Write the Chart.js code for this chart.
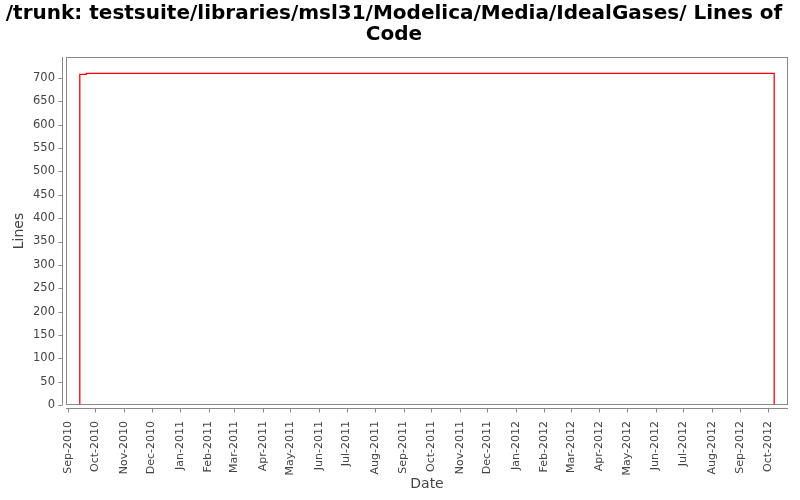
<!DOCTYPE html>
<html><head><meta charset="utf-8">
<script src="https://cdn.jsdelivr.net/npm/chart.js@4/dist/chart.umd.min.js"></script>
<style>html,body{margin:0;padding:0;background:#fff}#wrap{width:800px;height:500px}</style>
</head><body><div id="wrap"><canvas id="c"></canvas></div>
<script>
const titleLines = ['/trunk: testsuite/libraries/msl31/Modelica/Media/IdealGases/ Lines of', 'Code'];
const monthLabels = ['Sep-2010','Oct-2010','Nov-2010','Dec-2010','Jan-2011','Feb-2011','Mar-2011','Apr-2011','May-2011','Jun-2011','Jul-2011','Aug-2011','Sep-2011','Oct-2011','Nov-2011','Dec-2011','Jan-2012','Feb-2012','Mar-2012','Apr-2012','May-2012','Jun-2012','Jul-2012','Aug-2012','Sep-2012','Oct-2012'];
const monthStarts = ['2010-09-01','2010-10-01','2010-11-01','2010-12-01','2011-01-01','2011-02-01','2011-03-01','2011-04-01','2011-05-01','2011-06-01','2011-07-01','2011-08-01','2011-09-01','2011-10-01','2011-11-01','2011-12-01','2012-01-01','2012-02-01','2012-03-01','2012-04-01','2012-05-01','2012-06-01','2012-07-01','2012-08-01','2012-09-01','2012-10-01'];
const dates = ['2010-09-14','2010-09-14','2010-09-21','2012-10-08'];
const lines = [0, 708, 710, 0];
const yTicks = [0,50,100,150,200,250,300,350,400,450,500,550,600,650,700];
const xMinDate = '2010-08-30';
const xMaxDate = '2012-10-23';
const yMax = 745;

function day(s){ const p = s.split('-').map(Number); return Date.UTC(p[0], p[1]-1, p[2]) / 864e5; }
const points = dates.map((d,i) => ({x: day(d), y: lines[i]}));
const monthDays = monthStarts.map(day);
const labelByDay = {};
monthDays.forEach((d,i) => labelByDay[d] = monthLabels[i]);

const GRAY = '#888888';
const framePlugin = {
  id: 'frame',
  afterDraw(chart) {
    const {ctx, chartArea: a, scales: {x, y}} = chart;
    ctx.save();
    ctx.strokeStyle = GRAY;
    ctx.lineWidth = 1;
    ctx.strokeRect(a.left + 0.5, a.top + 0.5, a.right - a.left - 1, a.bottom - a.top - 1);
    ctx.beginPath();
    const ax = a.left - 4 + 0.5;
    ctx.moveTo(ax, a.top); ctx.lineTo(ax, a.bottom);
    y.ticks.forEach(t => { const py = Math.round(y.getPixelForValue(t.value)) + 0.5; ctx.moveTo(ax - 4, py); ctx.lineTo(ax, py); });
    const ay = a.bottom + 4 - 0.5;
    ctx.moveTo(a.left, ay); ctx.lineTo(a.right, ay);
    x.ticks.forEach(t => { const px = Math.round(x.getPixelForValue(t.value)) + 0.5; ctx.moveTo(px, ay); ctx.lineTo(px, ay + 4); });
    ctx.stroke();
    ctx.restore();
  }
};

new Chart(document.getElementById('c'), {
  type: 'line',
  data: { datasets: [{ data: points, borderColor: '#ff0000', borderWidth: 1.3, pointRadius: 0, stepped: 'before', fill: false }] },
  options: {
    responsive: true, maintainAspectRatio: false, animation: false,
    layout: { padding: { left: 0, right: 12, top: 0, bottom: 0 } },
    plugins: {
      legend: { display: false }, tooltip: { enabled: false },
      title: { display: true, text: titleLines, color: '#000', font: { family: 'DejaVu Sans', size: 20, weight: 'bold', lineHeight: 1.075 }, padding: { top: 3, bottom: 11 } }
    },
    scales: {
      x: {
        type: 'linear', min: day(xMinDate), max: day(xMaxDate),
        grid: { display: false, drawTicks: false }, border: { display: false },
        afterBuildTicks(s) { s.ticks = monthDays.map(v => ({ value: v })); },
        afterFit(s) { s.height = 95; },
        ticks: { autoSkip: false, minRotation: 90, maxRotation: 90, padding: 16, color: '#444', font: { family: 'DejaVu Sans', size: 11 }, callback: v => labelByDay[v] || '' },
        title: { display: true, text: 'Date', color: '#444', font: { family: 'DejaVu Sans', size: 14 }, padding: { top: 0, bottom: 7 } }
      },
      y: {
        type: 'linear', min: 0, max: yMax,
        grid: { display: false, drawTicks: false }, border: { display: false },
        afterBuildTicks(s) { s.ticks = yTicks.map(v => ({ value: v })); },
        afterFit(s) { s.width = 66; },
        ticks: { autoSkip: false, padding: 11, color: '#444', font: { family: 'DejaVu Sans', size: 11.5 }, callback: v => String(v) },
        title: { display: true, text: 'Lines', color: '#444', font: { family: 'DejaVu Sans', size: 14 }, padding: { top: 11, bottom: 0 } }
      }
    }
  },
  plugins: [framePlugin]
});
</script>
</body></html>
